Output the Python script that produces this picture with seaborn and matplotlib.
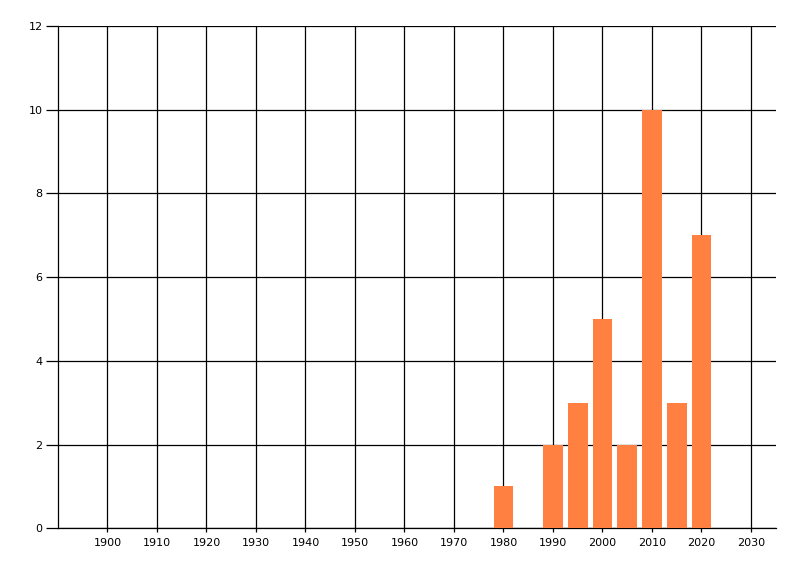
import numpy as np
import matplotlib
matplotlib.use('Agg')
import matplotlib.pyplot as plt
import seaborn as sns
import pandas as pd

years = [1980, 1990, 1995, 2000, 2005, 2010, 2015, 2020]
counts = [1, 2, 3, 5, 2, 10, 3, 7]
x_ticks = list(range(1900, 2031, 10))
y_ticks = list(range(0, 13, 2))

sns.set_style("white")
plt.rcParams['font.family'] = ['DejaVu Sans']

df = pd.DataFrame({'Year': years, 'Count': counts})

fig = plt.figure(figsize=(8, 5.76), dpi=100)
ax = fig.add_axes([0.0725, 0.0828, 0.8971, 0.8721])
ax.set_axisbelow(True)
sns.barplot(data=df, x='Year', y='Count', native_scale=True, width=0.8,
            color='#FF8040', saturation=1, linewidth=0, edgecolor='none',
            ax=ax, zorder=3)

ax.set_xlim(1890, 2035)
ax.set_ylim(0, 12)
ax.set_xticks(x_ticks)
ax.set_yticks(y_ticks)
ax.grid(True, color='black', linewidth=0.9)
ax.set_xlabel('')
ax.set_ylabel('')
for side in ['top', 'right']:
    ax.spines[side].set_visible(False)
for side in ['left', 'bottom']:
    ax.spines[side].set_color('black')
    ax.spines[side].set_linewidth(0.9)
ax.tick_params(axis='y', length=9, width=0.9, color='black', labelsize=8,
               labelcolor='black', pad=2, left=True)
ax.tick_params(axis='x', length=3, width=0.9, color='black', labelsize=8,
               labelcolor='black', pad=4, bottom=True)

fig.savefig('out.png', dpi=100)
